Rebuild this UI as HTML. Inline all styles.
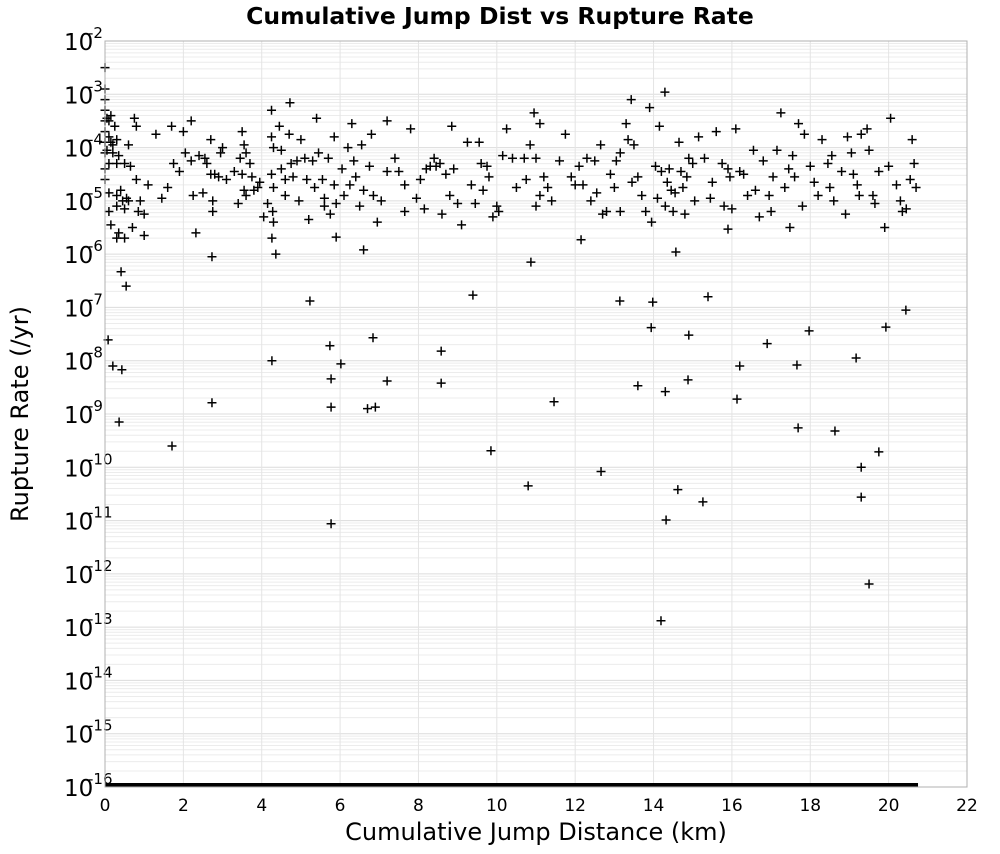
<!DOCTYPE html>
<html><head><meta charset="utf-8"><style>
body{margin:0;background:#fff;font-family:"DejaVu Sans","Liberation Sans",sans-serif}
</style></head><body>
<svg id="chart" width="1000" height="850" xmlns="http://www.w3.org/2000/svg">
<text x="500" y="24" text-anchor="middle" font-size="23.5" font-weight="bold">Cumulative Jump Dist vs Rupture Rate</text>
<g id="grid"></g>
<g id="yticks"></g>
<g id="xticks"></g>
<g id="marks"></g>
<rect x="105" y="41" width="862" height="746" fill="none" stroke="#b0b0b0" stroke-width="1"/>
<text x="536" y="840" text-anchor="middle" font-size="24">Cumulative Jump Distance (km)</text>
<text transform="translate(28,414) rotate(-90)" text-anchor="middle" font-size="24">Rupture Rate (/yr)</text>
</svg>
<script>
const xTicks=[0,2,4,6,8,10,12,14,16,18,20,22];
const yExps=[-2,-3,-4,-5,-6,-7,-8,-9,-10,-11,-12,-13,-14,-15,-16];
const floorMaxX=20.75;
const xs=[0,0,0,0,0,0,0,0,0,0,0.05,0.1,0.15,0.1,0.15,0.2,0.3,0.05,0.2,0.35,0.1,0.3,0.5,0.65,0.55,0.1,0.3,0.4,0.45,0.6,0.1,0.3,0.5,0.15,0.35,0.3,0.5,0.7,0.8,0.75,0.8,1.1,0.9,0.85,1.0,1.0,
1.3,1.6,1.7,1.75,2.0,2.05,2.2,2.2,2.25,2.4,2.55,2.7,2.7,2.75,2.75,2.6,2.8,2.9,
3.1,3.3,3.45,3.5,3.55,3.6,3.5,3.55,3.6,3.7,3.75,3.8,3.9,4.25,4.25,4.3,4.25,4.3,4.28,4.3,4.45,4.5,4.5,4.6,4.7,4.75,4.8,4.9,4.95,5.1,5.15,5.2,
5.3,5.4,5.45,5.55,5.6,5.6,5.7,5.85,5.85,5.9,6.05,6.1,6.3,6.35,6.4,6.55,6.6,6.8,6.85,6.95,7.2,7.2,7.4,7.65,7.65,
7.8,8.05,8.2,8.3,8.4,8.45,8.6,8.7,8.8,8.85,8.9,9.1,9.35,9.55,9.6,9.65,9.8,9.9,10.0,10.15,10.25,10.4,10.7,10.75,
10.95,11.0,11.1,11.1,11.0,11.2,11.3,11.6,11.75,12.1,12.2,12.3,12.5,12.55,12.7,12.8,12.9,13.05,13.15,13.15,13.3,13.35,13.5,13.6,13.7,
13.9,13.95,14.05,14.1,14.2,14.3,14.35,14.4,14.5,14.55,14.65,14.7,14.75,14.85,14.9,15.0,15.05,15.3,15.5,15.6,15.8,15.9,15.95,16.1,16.2,16.3,16.4,
16.8,16.95,17.0,17.15,17.25,17.45,17.55,17.6,17.8,17.85,18.0,18.1,18.3,18.45,18.5,18.6,18.8,18.95,19.1,19.2,19.3,19.45,19.5,19.6,19.75,19.9,20.05,20.2,20.3,20.45,20.55,20.65,20.7,20.6,
0.08,0.2,0.43,0.36,0.41,0.54,1.71,2.32,2.73,2.73,4.26,4.36,4.26,5.23,5.74,5.77,6.02,5.77,5.77,5.9,6.7,6.9,6.84,7.2,6.6,8.58,8.58,9.39,9.85,10.87,10.8,11.46,12.15,12.66,13.14,13.6,13.94,13.98,14.19,14.3,14.32,14.57,14.62,14.9,14.88,15.26,15.39,15.9,16.2,16.13,16.9,17.48,17.66,17.69,17.97,18.63,19.17,19.3,19.3,19.5,19.75,19.93,20.44,14.29,13.43,4.72,
1.9,2.5,3.0,3.4,3.95,4.05,4.6,5.0,5.35,5.75,6.2,6.5,6.75,7.05,7.5,7.95,8.15,8.55,9.0,9.25,9.75,10.05,10.5,10.85,11.4,11.9,12.4,12.65,13.0,13.45,13.8,14.15,14.45,14.8,15.15,15.45,15.75,16.0,16.55,16.7,17.05,17.35,17.7,18.2,18.55,18.9,19.25,19.65,20.0,20.35,0.25,0.6,1.45,2.95,4.15,6.25,9.45,12.0,16.6,19.05];
const logRates=[-2.5,-2.9,-3.1,-3.3,-3.5,-3.7,-3.9,-4.1,-4.4,-4.6,-3.45,-3.5,-3.4,-3.8,-3.9,-3.95,-3.85,-4.05,-4.1,-4.15,-4.3,-4.3,-4.3,-4.35,-4.95,-4.85,-4.9,-4.8,-5.0,-5.0,-5.2,-5.1,-5.15,-5.45,-5.6,-5.7,-5.7,-5.5,-4.6,-3.45,-3.6,-4.7,-5.0,-5.2,-5.25,-5.65,
-3.75,-4.75,-3.6,-4.3,-3.7,-4.1,-3.5,-4.25,-4.9,-4.15,-4.2,-4.5,-3.85,-5.0,-5.2,-4.3,-4.5,-4.55,
-4.6,-4.45,-4.2,-3.7,-3.95,-4.1,-4.5,-4.8,-4.9,-4.3,-4.55,-4.8,-4.75,-3.3,-3.8,-4.0,-4.5,-4.75,-5.2,-5.4,-3.6,-4.05,-4.4,-4.6,-3.75,-4.3,-4.55,-4.25,-5.0,-4.2,-4.6,-5.35,
-4.25,-3.45,-4.1,-4.6,-5.1,-4.95,-4.2,-3.8,-4.7,-5.05,-4.4,-4.9,-3.55,-4.25,-4.55,-3.95,-4.8,-3.75,-4.9,-5.4,-4.45,-3.5,-4.2,-4.7,-5.2,
-3.65,-4.6,-4.4,-4.35,-4.2,-4.35,-5.25,-4.5,-4.9,-3.6,-4.4,-5.45,-4.7,-3.9,-4.3,-4.8,-4.55,-5.3,-5.1,-4.15,-3.65,-4.2,-4.2,-4.6,
-3.35,-4.2,-3.55,-4.9,-5.1,-4.55,-4.75,-4.25,-3.75,-4.35,-4.7,-4.2,-4.25,-4.85,-5.25,-5.2,-4.5,-4.25,-4.1,-5.2,-3.55,-3.85,-3.95,-4.55,-4.9,
-3.25,-5.4,-4.35,-4.95,-4.45,-5.1,-4.65,-4.4,-5.2,-4.85,-3.9,-4.45,-4.75,-4.55,-4.2,-4.3,-5.0,-4.2,-4.65,-3.7,-5.1,-4.4,-4.55,-3.65,-4.45,-4.5,-4.9,
-4.25,-4.9,-5.2,-4.05,-3.35,-4.4,-4.15,-4.55,-5.1,-3.75,-4.35,-4.65,-3.85,-4.3,-4.75,-5.0,-4.45,-3.8,-4.5,-4.7,-3.75,-3.65,-4.05,-4.9,-4.45,-5.5,-3.45,-4.7,-5.0,-5.15,-4.6,-4.3,-4.75,-3.85,
-7.61,-8.1,-8.17,-9.15,-6.33,-6.6,-9.6,-5.6,-6.05,-8.79,-5.7,-6.0,-8.0,-6.88,-7.72,-8.34,-8.06,-8.87,-11.06,-5.68,-8.9,-8.87,-7.57,-8.38,-5.92,-7.82,-8.42,-6.77,-9.69,-6.15,-10.35,-8.77,-5.73,-10.08,-6.88,-8.47,-7.38,-6.9,-12.88,-8.58,-10.99,-5.96,-10.42,-7.52,-8.36,-10.65,-6.8,-5.53,-8.1,-8.72,-7.68,-5.5,-8.08,-9.26,-7.44,-9.32,-7.95,-10.0,-10.56,-12.19,-9.71,-7.37,-7.05,-2.96,-3.1,-3.16,
-4.45,-4.85,-4.0,-5.05,-4.65,-5.3,-4.9,-3.85,-4.75,-5.25,-4.0,-5.1,-4.35,-5.0,-4.45,-4.95,-5.15,-4.3,-5.05,-3.9,-4.35,-5.2,-4.75,-3.95,-5.0,-4.55,-5.0,-3.95,-4.75,-4.65,-5.2,-3.6,-4.8,-5.25,-3.8,-4.95,-4.3,-5.15,-4.05,-5.3,-4.55,-4.75,-3.55,-4.9,-4.15,-5.25,-4.9,-5.05,-4.35,-5.2,-3.6,-3.95,-4.95,-4.1,-5.05,-4.7,-5.05,-4.7,-4.8,-4.1];

const NS="http://www.w3.org/2000/svg";
const L=105,R=967,T=41,B=787;
const xScale=v=>L+(v-0)/(22-0)*(R-L);
const yScale=e=>T+(-2-e)/14*(B-T);
function mk(tag,attrs,parent){const el=document.createElementNS(NS,tag);for(const k in attrs)el.setAttribute(k,attrs[k]);parent.appendChild(el);return el;}
const grid=document.getElementById('grid'),yt=document.getElementById('yticks'),xt=document.getElementById('xticks'),marks=document.getElementById('marks');
for(let e=-16;e<-2;e++){for(let m=1;m<10;m++){const y=yScale(e+Math.log10(m));
const ln=mk('line',{x1:L,x2:R,y1:y,y2:y,stroke:m===1?'#dcdcdc':'#ececec','stroke-width':1},grid);

}}
xTicks.forEach(v=>{const x=xScale(v);
const ln=mk('line',{x1:x,x2:x,y1:T,y2:B,stroke:'#e4e4e4','stroke-width':1},grid);


const t=mk('text',{x:x,y:811,'text-anchor':'middle','font-size':17},xt);t.textContent=v;

});
yExps.forEach(e=>{const y=yScale(e);
const t=mk('text',{x:64,y:y+9,'font-size':23},yt);t.textContent='10';


const s=mk('text',{x:88,y:y-3,'font-size':15,'text-anchor':'start'},yt);s.textContent=e;

});
const fb=mk('rect',{x:xScale(0),y:yScale(-16)-4,width:xScale(floorMaxX)-xScale(0),height:4,fill:'#000'},marks);


xs.forEach((v,i)=>{const x=xScale(v),y=yScale(logRates[i]);
const p=mk('path',{d:`M${x-4.5},${y}H${x+4.5}M${x},${y-4.5}V${y+4.5}`,stroke:'#000','stroke-width':1.5,fill:'none'},marks);

});
</script>
</body></html>
